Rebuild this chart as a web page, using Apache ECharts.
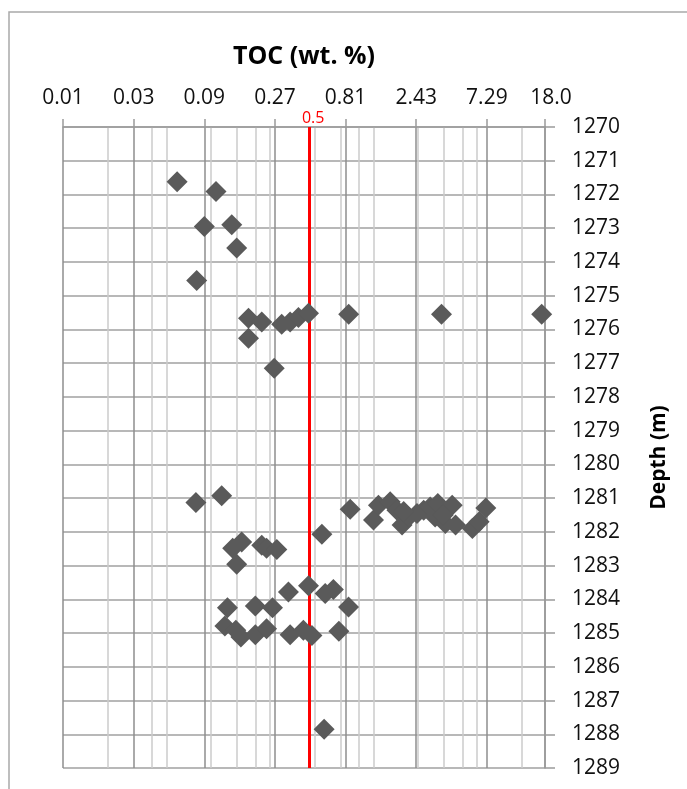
<!DOCTYPE html>
<html>
<head>
<meta charset="utf-8">
<script src="https://cdn.jsdelivr.net/npm/echarts@6/dist/echarts.min.js"></script>
<style>html,body{margin:0;padding:0;background:#fff}#c{width:687px;height:789px}</style>
</head>
<body>
<div id="c"></div>
<script>
// ---- data ----
const majorTicks = [0.01, 0.03, 0.09, 0.27, 0.81, 2.43, 7.29, 18];
const majorTickLabels = ['0.01', '0.03', '0.09', '0.27', '0.81', '2.43', '7.29', '18.0'];
const minorTicks = [0.02, 0.04, 0.05, 0.1, 0.15, 0.2, 0.25, 0.5, 0.75, 1.0, 1.25, 2.5, 3.75, 5.0, 6.25, 12.5];
const depthTicks = [1270,1271,1272,1273,1274,1275,1276,1277,1278,1279,1280,1281,1282,1283,1284,1285,1286,1287,1288,1289];
const tocCutoff = 0.46;
const tocCutoffLabel = '0.5';
const depth = [
  1271.62, 1271.91, 1272.95, 1272.90, 1273.59, 1274.55,
  1275.67, 1275.78, 1276.26, 1275.85, 1275.78, 1275.65, 1275.52, 1275.55, 1275.55, 1275.55, 1277.15,
  1281.13, 1280.93, 1281.33, 1282.07, 1282.30, 1282.49, 1282.40, 1282.49, 1282.52, 1282.96,
  1283.78, 1283.60, 1283.83, 1283.71, 1284.23, 1284.25, 1284.20, 1284.25,
  1284.79, 1284.92, 1285.12, 1285.05, 1284.87, 1285.05, 1284.92, 1285.07, 1284.95,
  1281.65, 1281.21, 1281.11, 1281.36, 1281.80, 1281.56, 1281.46, 1281.36, 1281.26, 1281.56,
  1281.16, 1281.75, 1281.21, 1281.80, 1281.90, 1281.70, 1281.29, 1281.40, 1281.50,
  1287.85
];
const toc = [
  0.059, 0.108, 0.090, 0.138, 0.149, 0.080,
  0.179, 0.220, 0.179, 0.300, 0.342, 0.389, 0.455, 0.850, 3.60, 17.1, 0.267,
  0.079, 0.118, 0.87, 0.56, 0.161, 0.140, 0.220, 0.237, 0.278, 0.149,
  0.333, 0.455, 0.590, 0.670, 0.848, 0.129, 0.199, 0.260,
  0.124, 0.147, 0.159, 0.199, 0.237, 0.342, 0.420, 0.480, 0.730,
  1.25, 1.35, 1.62, 1.80, 1.95, 2.16, 2.46, 2.73, 3.02, 3.26,
  3.40, 3.82, 4.25, 4.48, 5.82, 6.46, 7.17, 2.0, 3.7,
  0.58
];
// ---- chart ----
const points = toc.map((v, i) => [v, depth[i]]);
const FONT = 'Open Sans';
const chart = echarts.init(document.getElementById('c'), null, {renderer: 'canvas'});
chart.setOption({
  animation: false,
  backgroundColor: '#ffffff',
  grid: {left: 63, right: 142, top: 127, bottom: 21, containLabel: false},
  graphic: [{
    type: 'rect', shape: {x: 9, y: 12, width: 720, height: 820},
    style: {fill: 'none', stroke: '#a9a9a9', lineWidth: 1.5}, silent: true, z: -10
  }],
  xAxis: [{
    type: 'log', logBase: 3, min: 0.01, max: 18, position: 'bottom',
    axisLine: {show: false}, axisTick: {show: false, customValues: minorTicks},
    axisLabel: {show: false},
    splitLine: {show: true, lineStyle: {color: '#cbcbcb', width: 1.5}}
  }, {
    type: 'log', logBase: 3, min: 0.01, max: 18, position: 'top',
    name: 'TOC (wt. %)', nameLocation: 'middle', nameGap: 58,
    nameTextStyle: {fontFamily: FONT, fontSize: 25, fontWeight: 'bold', color: '#000'},
    axisLine: {show: true, lineStyle: {color: '#9a9a9a', width: 1.5}},
    axisTick: {show: true, inside: false, length: 8, customValues: majorTicks, lineStyle: {color: '#9a9a9a', width: 1.5}},
    axisLabel: {
      customValues: majorTicks, margin: 18, fontFamily: FONT, fontSize: 21, color: '#111',
      rich: {last: {fontFamily: FONT, fontSize: 21, color: '#111', padding: [0, 0, 0, 12]}},
      formatter: function (v) {
        let best = 0;
        majorTicks.forEach((t, i) => { if (Math.abs(Math.log(t) - Math.log(v)) < Math.abs(Math.log(majorTicks[best]) - Math.log(v))) best = i; });
        return best === majorTicks.length - 1 ? '{last|' + majorTickLabels[best] + '}' : majorTickLabels[best];
      }
    },
    splitLine: {show: true, lineStyle: {color: '#8e8e8e', width: 1.5}}
  }],
  yAxis: {
    type: 'value', min: 1270, max: 1289, interval: 1, inverse: true, position: 'right',
    name: 'Depth (m)', nameLocation: 'middle', nameRotate: 90, nameGap: 104,
    nameTextStyle: {fontFamily: FONT, fontSize: 21, fontWeight: 'bold', color: '#000', padding: [0, 20, 0, 0]},
    axisLine: {show: true, lineStyle: {color: '#9a9a9a', width: 1.5}},
    axisTick: {show: true, inside: false, length: 10, lineStyle: {color: '#9a9a9a', width: 1.5}},
    axisLabel: {margin: 27, fontFamily: FONT, fontSize: 21, color: '#111',
      formatter: v => String(depthTicks[Math.round(v - depthTicks[0])])},
    splitLine: {show: true, lineStyle: {color: '#a0a0a0', width: 1.5}}
  },
  series: [{
    type: 'scatter', xAxisIndex: 1, yAxisIndex: 0,
    symbol: 'diamond', symbolSize: 21,
    itemStyle: {color: '#5a5a5a', opacity: 1},
    data: points, z: 5,
    markLine: {
      silent: true, symbol: 'none', animation: false,
      lineStyle: {color: '#ff0000', width: 3, type: 'solid'},
      label: {show: true, position: 'start', formatter: '{r|' + tocCutoffLabel + '}', distance: 1,
        rich: {r: {color: '#ff0000', fontFamily: FONT, fontSize: 16, padding: [0, 0, 0, 8]}}},
      data: [{xAxis: tocCutoff}]
    }
  }]
});
</script>
</body>
</html>
